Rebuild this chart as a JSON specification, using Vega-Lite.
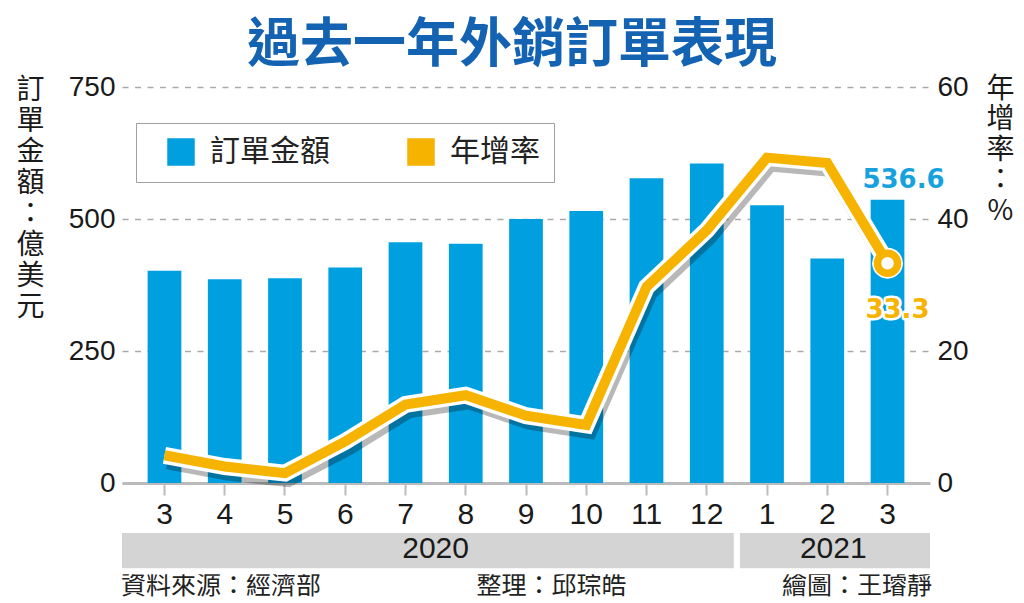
{
  "$schema": "https://vega.github.io/schema/vega-lite/v6.json",
  "width": 808,
  "height": 396,
  "autosize": {"type": "none"},
  "padding": {"left": 122, "top": 87, "right": 94, "bottom": 120},
  "background": "white",
  "config": {"font": "Noto Sans CJK TC", "view": {"stroke": null}},
  "title": {
    "text": "過去一年外銷訂單表現",
    "font": "Noto Sans CJK TC",
    "fontSize": 53,
    "fontWeight": "bold",
    "color": "#1463b3",
    "anchor": "middle",
    "frame": "group",
    "baseline": "alphabetic",
    "dx": -14,
    "offset": -42
  },
  "data": {
    "values": [
      {"m": "2020-03", "amount": 402, "growth": 4.2},
      {"m": "2020-04", "amount": 386, "growth": 2.5},
      {"m": "2020-05", "amount": 388, "growth": 1.5},
      {"m": "2020-06", "amount": 408, "growth": 6.3},
      {"m": "2020-07", "amount": 456, "growth": 11.9},
      {"m": "2020-08", "amount": 453, "growth": 13.3},
      {"m": "2020-09", "amount": 500, "growth": 10.2},
      {"m": "2020-10", "amount": 515, "growth": 8.8},
      {"m": "2020-11", "amount": 577, "growth": 29.7},
      {"m": "2020-12", "amount": 605, "growth": 38.3},
      {"m": "2021-01", "amount": 526, "growth": 49.3},
      {"m": "2021-02", "amount": 425, "growth": 48.5},
      {"m": "2021-03", "amount": 536.6, "growth": 33.3}
    ]
  },
  "layer": [
    {
      "layer": [
        {
          "mark": {"type": "bar", "width": {"band": 0.56}},
          "encoding": {
            "x": {
              "field": "m",
              "type": "ordinal",
              "scale": {"paddingInner": 0, "paddingOuter": 0.205},
              "axis": {
                "title": "資料來源：經濟部　　　　　　 整理：邱琮皓　　　　　　 繪圖：王璿靜",
                "titleFontSize": 25,
                "titleFontWeight": "normal",
                "titleColor": "#222222",
                "titlePadding": 44,
                "labelExpr": "toNumber(slice(datum.value, 5))",
                "labelAngle": 0,
                "labelFont": "Liberation Sans",
                "labelFontSize": 30,
                "labelColor": "#1a1a1a",
                "labelPadding": 4,
                "tickColor": "#bbbbbb",
                "tickSize": 12,
                "tickWidth": 2,
                "domainColor": "#bbbbbb",
                "domainWidth": 3
              }
            },
            "y": {
              "field": "amount",
              "type": "quantitative",
              "scale": {"domain": [0, 750], "nice": false},
              "axis": {
                "values": [0, 250, 500, 750],
                "grid": true,
                "gridColor": "#aaaaaa",
                "gridDash": [6, 6.5],
                "gridWidth": 1.5,
                "domain": false,
                "ticks": false,
                "labelFont": "Liberation Sans",
                "labelFontSize": 28,
                "labelColor": "#1a1a1a",
                "labelPadding": 7,
                "title": ["訂", "單", "金", "額", "：", "億", "美", "元"],
                "titleAngle": 0,
                "titleFontSize": 28,
                "titleFontWeight": "normal",
                "titleColor": "#1a1a1a",
                "titleLineHeight": 31,
                "titleAlign": "center",
                "titleBaseline": "top",
                "titleX": -92,
                "titleY": -11
              }
            },
            "color": {
              "datum": "訂單金額",
              "scale": {"domain": ["訂單金額", "年增率"], "range": ["#00a0e0", "#f6b300"]},
              "legend": {
                "orient": "none",
                "legendX": 14,
                "legendY": 36,
                "direction": "horizontal",
                "title": null,
                "symbolType": "square",
                "symbolSize": 676,
                "symbolOffset": 16,
                "labelFont": "Noto Sans CJK TC",
                "labelFontSize": 30,
                "labelColor": "#222222",
                "labelOffset": 14,
                "columnPadding": 60,
                "padding": 14,
                "strokeColor": "#a0a0a0",
                "fillColor": "white"
              }
            }
          }
        },
        {
          "transform": [{"filter": "datum.m == '2021-03'"}],
          "mark": {
            "type": "text",
            "font": "DejaVu Sans",
            "fontWeight": "bold",
            "fontSize": 26,
            "color": "#17a2dd",
            "baseline": "alphabetic",
            "dx": 16,
            "dy": -12
          },
          "encoding": {
            "x": {"field": "m", "type": "ordinal"},
            "y": {"field": "amount", "type": "quantitative"},
            "text": {"field": "amount", "type": "quantitative", "format": ".1f"}
          }
        }
      ]
    },
    {
      "data": {
        "values": [
          {"year": "2020", "first": "2020-03", "last": "2020-12", "mid": "2020-07"},
          {"year": "2021", "first": "2021-01", "last": "2021-03", "mid": "2021-02"}
        ]
      },
      "encoding": {
        "y": {"datum": -89, "type": "quantitative", "scale": {"domain": [0, 750], "nice": false}, "axis": null}
      },
      "layer": [
        {
          "transform": [{"filter": "datum.year == '2020'"}],
          "mark": {"type": "rect", "color": "#d4d4d4", "stroke": "white", "strokeWidth": 6},
          "encoding": {
            "x": {"field": "first", "type": "ordinal", "bandPosition": -0.255},
            "x2": {"field": "last", "bandPosition": 1},
            "y2": {"datum": -167}
          }
        },
        {
          "transform": [{"filter": "datum.year == '2021'"}],
          "mark": {"type": "rect", "color": "#d4d4d4", "stroke": "white", "strokeWidth": 6},
          "encoding": {
            "x": {"field": "first", "type": "ordinal", "bandPosition": 0},
            "x2": {"field": "last", "bandPosition": 1.255},
            "y2": {"datum": -167}
          }
        },
        {
          "transform": [{"filter": "datum.year == '2020'"}],
          "mark": {"type": "text", "font": "Liberation Sans", "fontSize": 30, "color": "#1a1a1a", "baseline": "middle"},
          "encoding": {
            "x": {"field": "mid", "type": "ordinal", "bandPosition": 1},
            "y": {"datum": -125, "type": "quantitative"},
            "text": {"field": "year"}
          }
        },
        {
          "transform": [{"filter": "datum.year == '2021'"}],
          "mark": {"type": "text", "font": "Liberation Sans", "fontSize": 30, "color": "#1a1a1a", "baseline": "middle"},
          "encoding": {
            "x": {"field": "mid", "type": "ordinal", "bandPosition": 0.6},
            "y": {"datum": -125, "type": "quantitative"},
            "text": {"field": "year"}
          }
        }
      ]
    },
    {
      "encoding": {
        "x": {"field": "m", "type": "ordinal"},
        "y": {
          "field": "growth",
          "type": "quantitative",
          "scale": {"domain": [0, 60], "nice": false},
          "axis": {
            "orient": "right",
            "values": [0, 20, 40, 60],
            "grid": false,
            "domain": false,
            "ticks": false,
            "labelFont": "Liberation Sans",
            "labelFontSize": 28,
            "labelColor": "#1a1a1a",
            "labelPadding": 7,
            "title": ["年", "增", "率", "：", "%"],
            "titleAngle": 0,
            "titleFontSize": 28,
            "titleFontWeight": "normal",
            "titleColor": "#1a1a1a",
            "titleLineHeight": 30.5,
            "titleAlign": "center",
            "titleBaseline": "top",
            "titleX": 70,
            "titleY": -12
          }
        }
      },
      "layer": [
        {"mark": {"type": "line", "color": "#000000", "opacity": 0.28, "strokeWidth": 16, "xOffset": 3, "yOffset": 6}},
        {"mark": {"type": "line", "color": "white", "strokeWidth": 17}},
        {
          "transform": [{"filter": "datum.m == '2021-03'"}],
          "mark": {"type": "point", "shape": "circle", "filled": true, "color": "white", "opacity": 1, "size": 950}
        },
        {
          "mark": {"type": "line", "strokeWidth": 10},
          "encoding": {"color": {"datum": "年增率"}}
        },
        {
          "transform": [{"filter": "datum.m == '2021-03'"}],
          "mark": {"type": "point", "shape": "circle", "filled": false, "fill": "white", "stroke": "#f6b300", "strokeWidth": 7.5, "opacity": 1, "size": 400}
        },
        {
          "transform": [{"filter": "datum.m == '2021-03'"}],
          "mark": {"type": "text", "font": "DejaVu Sans", "fontWeight": "bold", "fontSize": 26, "color": "white", "stroke": "white", "strokeWidth": 5, "strokeJoin": "round", "baseline": "alphabetic", "dx": 10, "dy": 55},
          "encoding": {"text": {"field": "growth", "type": "quantitative", "format": ".1f"}}
        },
        {
          "transform": [{"filter": "datum.m == '2021-03'"}],
          "mark": {"type": "text", "font": "DejaVu Sans", "fontWeight": "bold", "fontSize": 26, "color": "#f6b300", "baseline": "alphabetic", "dx": 10, "dy": 55},
          "encoding": {"text": {"field": "growth", "type": "quantitative", "format": ".1f"}}
        }
      ]
    }
  ],
  "resolve": {"scale": {"y": "independent"}}
}
